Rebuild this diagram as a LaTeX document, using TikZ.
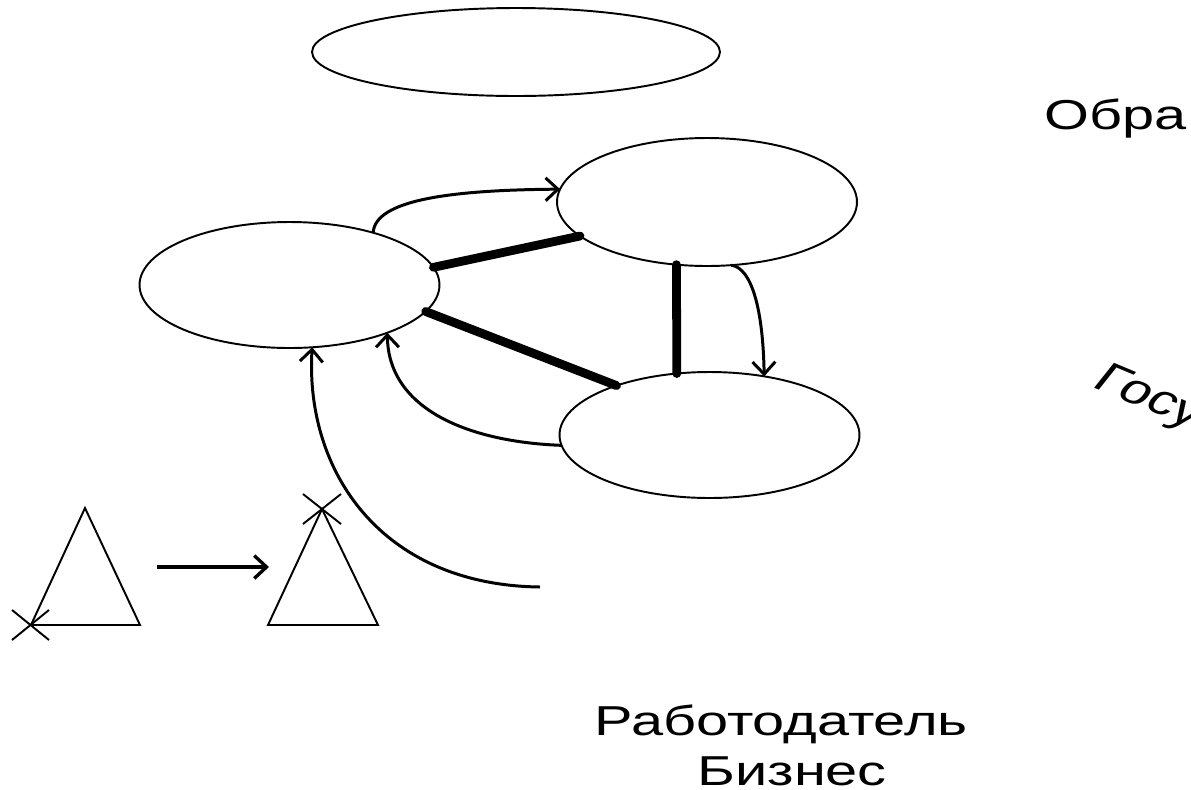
\documentclass[tikz,border=0pt]{standalone}
\usepackage{fontspec}
\setmainfont{Liberation Sans}
\usetikzlibrary{shapes.geometric,arrows.meta}
\begin{document}
\begin{tikzpicture}[x=0.02cm,y=-0.02cm,
  oval/.style={draw,ellipse,line width=1.1pt,inner sep=0pt,outer sep=0pt},
  link/.style={line width=5pt,line cap=round},
  flow/.style={line width=1.7pt,-{Straight Barb[length=7pt,width=13pt]}},
  thinline/.style={line width=1.1pt},
  lbl/.style={font=\fontsize{23.8}{28}\selectfont,xscale=1.38,transform shape,inner sep=0pt}]
\clip (0,0) rectangle (1191,789);
\fill[white] (0,0) rectangle (1191,789);
% ellipses
\node[oval,minimum width=8.16cm,minimum height=1.76cm] (T) at (516,52) {};
\node[oval,minimum width=6cm,minimum height=2.52cm] (A) at (289.5,285) {};
\node[oval,minimum width=6cm,minimum height=2.56cm] (B) at (707,202) {};
\node[oval,minimum width=6cm,minimum height=2.52cm] (C) at (709.5,435) {};
% thick links
\draw[link] (A.7.15) -- (B.195);
\draw[link] (A.-11.8) -- (C.152.8);
\draw[link] (B.244.5) -- (C.118.4);
% curved arrows
\draw[flow] (A.32.4) .. controls (375,200) and (450,190) .. (B.175.3);
\draw[flow] (B.-69.9) .. controls (752,268) and (763,310) .. (C.47.8);
\draw[flow] (C.184.2) .. controls (470,442) and (388,410) .. (A.-26);
\coordinate (q) at (540,587);
\draw[flow] (q) .. controls (380,585) and (305,470) .. (A.-70.3);
% triangles
\draw[thinline] (85,508) -- (31,625) -- (140,625) -- cycle;
\draw[thinline] (12,610) -- (49,640) (12,640) -- (49,610);
\draw[thinline] (322,509) -- (268,625) -- (378,625) -- cycle;
\draw[thinline] (303,494) -- (341,524) (303,524) -- (341,494);
\coordinate (p1) at (157,567);
\coordinate (p2) at (269,567);
\draw[flow,line width=1.9pt] (p1) -- (p2);
% labels
\begin{scope}[shift={(1044,129)}]
\node[lbl,anchor=base west] (obr) at (0,0) {Обра};
\end{scope}
\begin{scope}[shift={(1090,386)}]
\node[lbl,rotate=-30,anchor=base west] (gos) at (0,0) {Госу};
\end{scope}
\begin{scope}[shift={(594,735)}]
\node[lbl,anchor=base west] (rab) at (0,0) {Работодатель};
\end{scope}
\begin{scope}[shift={(697,785)}]
\node[lbl,anchor=base west] (biz) at (0,0) {Бизнес};
\end{scope}
\end{tikzpicture}
\end{document}
